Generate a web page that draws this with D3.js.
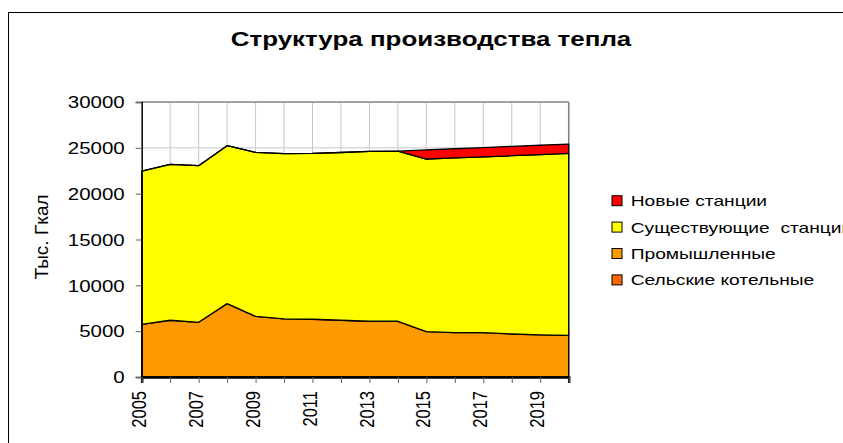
<!DOCTYPE html>
<html lang="ru">
<head>
<meta charset="UTF-8">
<title>Структура производства тепла</title>
<script src="https://cdnjs.cloudflare.com/ajax/libs/d3/7.8.2/d3.min.js"></script>
<style>
  body { margin: 0; background: #fff; }
  svg { display: block; font-family: "Liberation Sans", Arial, sans-serif; }
  text { white-space: pre; }
</style>
</head>
<body>
<div id="chart"></div>
<script>
// data (тыс. Гкал)
const years = [2005, 2006, 2007, 2008, 2009, 2010, 2011, 2012, 2013, 2014, 2015, 2016, 2017, 2018, 2019, 2020];
const selskie = [0, 0, 0, 0, 0, 0, 0, 0, 0, 0, 0, 0, 0, 0, 0, 0];
const promyshl = [5740, 6190, 5970, 8000, 6620, 6330, 6300, 6190, 6080, 6080, 4950, 4840, 4840, 4690, 4590, 4550];
const suschest = [16730, 17010, 17080, 17230, 17890, 18030, 18090, 18300, 18540, 18560, 18830, 19060, 19180, 19450, 19680, 19850];
const novye = [0, 0, 0, 0, 0, 0, 0, 0, 0, 0, 990, 1000, 1010, 1020, 1010, 1010];

const seriesKeys = ['Сельские котельные', 'Промышленные', 'Существующие  станции', 'Новые станции'];
const seriesColors = ['#ff6600', '#ff9900', '#ffff00', '#ff0000'];
const yTicks = [0, 5000, 10000, 15000, 20000, 25000, 30000];

const width = 843, height = 443;
const sx = 1.28; // the source text is stretched sideways

const rows = years.map((y, i) => ({
  year: y,
  [seriesKeys[0]]: selskie[i],
  [seriesKeys[1]]: promyshl[i],
  [seriesKeys[2]]: suschest[i],
  [seriesKeys[3]]: novye[i]
}));

const svg = d3.select('#chart').append('svg')
  .attr('width', width).attr('height', height);

// outer frame
svg.append('rect')
  .attr('x', 8.5).attr('y', 12.5)
  .attr('width', 900).attr('height', 500)
  .attr('fill', 'none').attr('stroke', '#000').attr('stroke-width', 1);

const x = d3.scaleLinear().domain([2005, 2020]).range([141.7, 568.7]);
const y = d3.scaleLinear().domain([0, 30000]).range([377, 102]);

// gridlines
const grid = svg.append('g');
grid.selectAll('.vg').data(years.slice(1)).enter().append('line')
  .attr('x1', d => x(d)).attr('x2', d => x(d))
  .attr('y1', y(30000)).attr('y2', y(0))
  .attr('stroke', '#c8c8c8').attr('stroke-width', 1);
grid.selectAll('.hg').data(yTicks.slice(1)).enter().append('line')
  .attr('x1', x(2005)).attr('x2', x(2020))
  .attr('y1', d => y(d)).attr('y2', d => y(d))
  .attr('stroke', d => d === 30000 ? '#a0a0a0' : '#c8c8c8')
  .attr('stroke-width', d => d === 30000 ? 2 : 1);
grid.append('line')
  .attr('x1', x(2020)).attr('x2', x(2020))
  .attr('y1', y(30000)).attr('y2', y(0))
  .attr('stroke', '#808080').attr('stroke-width', 1.5);

// stacked areas
const stack = d3.stack().keys(seriesKeys);
const layers = stack(rows);
const area = d3.area()
  .x(d => x(d.data.year))
  .y0(d => y(d[0]))
  .y1(d => y(d[1]));

svg.append('g').selectAll('path').data(layers).enter().append('path')
  .attr('d', area)
  .attr('fill', (d, i) => seriesColors[i])
  .attr('stroke', '#000')
  .attr('stroke-width', 1.3)
  .attr('stroke-linejoin', 'round');

// y axis
const yAxis = svg.append('g')
  .attr('transform', `translate(${x(2005)},0)`)
  .call(d3.axisLeft(y).tickValues(yTicks).tickSize(6).tickFormat(d3.format('d')));
yAxis.select('.domain').attr('stroke', '#000').attr('stroke-width', 1.5);
yAxis.selectAll('.tick line').attr('stroke', '#606060');
yAxis.selectAll('.tick text')
  .attr('x', 0).attr('dy', '0.36em')
  .attr('transform', `translate(-17,0) scale(${sx},1)`)
  .attr('text-anchor', 'end')
  .attr('font-family', '"Liberation Sans", Arial, sans-serif')
  .attr('font-size', 16).attr('fill', '#000');

// x axis
const xAxis = svg.append('g')
  .attr('transform', `translate(0,${y(0)})`)
  .call(d3.axisBottom(x).tickValues(years).tickSize(6)
    .tickFormat(d => (d % 2 === 1 && d < 2020) ? String(d) : ''));
xAxis.select('.domain').attr('stroke', '#000').attr('stroke-width', 2.5);
xAxis.selectAll('.tick line').attr('stroke', '#606060');
xAxis.selectAll('.tick text')
  .attr('x', 0).attr('y', 0).attr('dy', '0.17em')
  .attr('transform', `translate(0,14) scale(${sx},1) rotate(-90)`)
  .attr('text-anchor', 'end')
  .attr('font-family', '"Liberation Sans", Arial, sans-serif')
  .attr('font-size', 16.5).attr('fill', '#000');

// title
svg.append('text')
  .attr('transform', 'translate(431,46) scale(1.33,1)')
  .attr('text-anchor', 'middle')
  .attr('font-size', 19.5).attr('font-weight', 'bold')
  .text('Структура производства тепла');

// y axis title
svg.append('text')
  .attr('transform', 'translate(48,237) rotate(-90)')
  .attr('text-anchor', 'middle')
  .attr('font-size', 19)
  .text('Тыс. Гкал');

// legend
const legendItems = seriesKeys.map((k, i) => ({ name: k, color: seriesColors[i] })).reverse();
const legend = svg.append('g');
const li = legend.selectAll('g').data(legendItems).enter().append('g')
  .attr('transform', (d, i) => `translate(612,${200.7 + i * 26.4})`);
li.append('rect')
  .attr('x', 0).attr('y', -5)
  .attr('width', 10).attr('height', 10)
  .attr('fill', d => d.color)
  .attr('stroke', '#000').attr('stroke-width', 1);
li.append('text')
  .attr('transform', `translate(18.7,5.5) scale(${sx},1)`)
  .attr('font-size', 15)
  .text(d => d.name);
</script>
</body>
</html>
